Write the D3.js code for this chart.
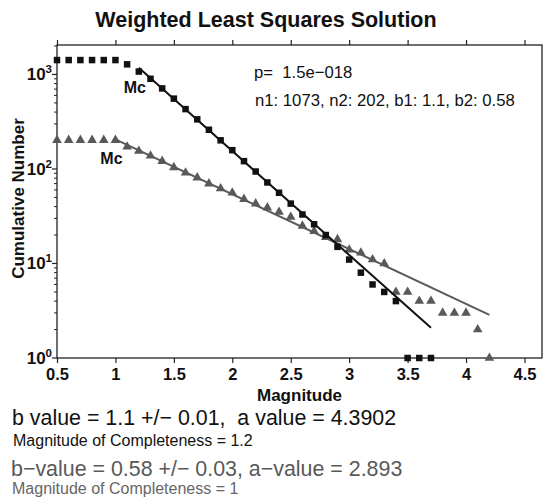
<!DOCTYPE html>
<html>
<head>
<meta charset="utf-8">
<script src="https://cdn.jsdelivr.net/npm/d3@7"></script>
<style>
  html, body { margin: 0; padding: 0; background: #fff; }
  svg { display: block; font-family: "Liberation Sans", Arial, Helvetica, sans-serif; }
</style>
</head>
<body>
<svg id="chart" width="548" height="499"></svg>
<script>
// Cumulative frequency–magnitude distributions for two catalogues
const magnitudes1 = [0.5,0.6,0.7,0.8,0.9,1.0,1.1,1.2,1.3,1.4,1.5,1.6,1.7,1.8,1.9,2.0,2.1,2.2,2.3,2.4,2.5,2.6,2.7,2.8,2.9,3.0,3.1,3.2,3.3,3.4,3.5,3.6,3.7];
const counts1 = [1420,1420,1420,1420,1420,1420,1280,1073,900,712,555,430,335,260,201,158,121,94,72,56,43,33,26,20,15,11,8,6,5,4,1,1,1];

const magnitudes2 = [0.5,0.6,0.7,0.8,0.9,1.0,1.1,1.2,1.3,1.4,1.5,1.6,1.7,1.8,1.9,2.0,2.1,2.2,2.3,2.4,2.5,2.6,2.7,2.8,2.9,3.0,3.1,3.2,3.3,3.4,3.5,3.6,3.7,3.8,3.9,4.0,4.1,4.2];
const counts2 = [202,202,202,202,202,202,172,155,138,121,104,91,81,70,62,56,48,43,39,35,31,25,22,19,18,14,13,11,10,5,5,4,4,3,3,3,2,1];

// Weighted least-squares fits: log10 N = a - b M, for M >= Mc
const bValues = [1.1, 0.58];
const aValues = [4.3902, 2.893];
const bErrors = [0.01, 0.03];
const mcValues = [1.2, 1.0];
const fitEnds = [3.7, 4.2];

const xTicks = [0.5, 1, 1.5, 2, 2.5, 3, 3.5, 4, 4.5];
const xTickLabels = ["0.5", "1", "1.5", "2", "2.5", "3", "3.5", "4", "4.5"];
const yExponents = [0, 1, 2, 3];

const svg = d3.select("#chart");
const plot = { left: 57, right: 542, top: 45, bottom: 358 };

const x = d3.scaleLinear().domain([0.5, 4.65]).range([plot.left, plot.right]);
const y = d3.scaleLog().domain([1, 2050]).range([plot.bottom, plot.top]);

const axisColor = "#222";
const darkColor = "#111";
const grayColor = "#595959";

// Title
svg.append("text")
  .attr("x", 266).attr("y", 27)
  .attr("text-anchor", "middle")
  .attr("font-size", 21.5).attr("font-weight", "bold")
  .attr("fill", "#111")
  .text("Weighted Least Squares Solution");

// Frame
svg.append("rect")
  .attr("x", plot.left).attr("y", plot.top)
  .attr("width", plot.right - plot.left).attr("height", plot.bottom - plot.top)
  .attr("fill", "none").attr("stroke", axisColor).attr("stroke-width", 1.3);

// Bottom axis
const xAxis = d3.axisBottom(x).tickValues(xTicks)
  .tickFormat((d, i) => xTickLabels[i]).tickSize(5).tickPadding(5);
const gx = svg.append("g").attr("transform", `translate(0,${plot.bottom})`).call(xAxis);
gx.select(".domain").remove();
gx.selectAll(".tick line").attr("stroke", axisColor).attr("stroke-width", 1.2);
gx.selectAll(".tick text")
  .attr("font-size", 16.5).attr("font-weight", "bold")
  .attr("font-family", "'Liberation Sans', Arial, sans-serif")
  .attr("fill", "#111");

// Top axis (ticks only)
const xAxisTop = d3.axisTop(x).tickValues(xTicks).tickFormat("").tickSize(5);
const gxt = svg.append("g").attr("transform", `translate(0,${plot.top})`).call(xAxisTop);
gxt.select(".domain").remove();
gxt.selectAll(".tick line").attr("stroke", axisColor).attr("stroke-width", 1.2);

// Left axis: major and minor log ticks
const minorTicks = [];
for (let e = 0; e < 4; e++) {
  for (let m = 2; m <= 9; m++) {
    const v = m * Math.pow(10, e);
    if (v <= y.domain()[1]) minorTicks.push(v);
  }
}
const gy = svg.append("g").attr("transform", `translate(${plot.left},0)`);
gy.selectAll("line.minor").data(minorTicks).join("line")
  .attr("class", "minor")
  .attr("x1", -3).attr("x2", 0)
  .attr("y1", d => y(d)).attr("y2", d => y(d))
  .attr("stroke", axisColor).attr("stroke-width", 1);
gy.selectAll("line.major").data(yExponents).join("line")
  .attr("class", "major")
  .attr("x1", -5).attr("x2", 0)
  .attr("y1", d => y(Math.pow(10, d))).attr("y2", d => y(Math.pow(10, d)))
  .attr("stroke", axisColor).attr("stroke-width", 1.2);
const yLabels = gy.selectAll("text.ylab").data(yExponents).join("text")
  .attr("class", "ylab")
  .attr("x", -5)
  .attr("y", d => y(Math.pow(10, d)) + 6)
  .attr("text-anchor", "end")
  .attr("font-size", 17).attr("font-weight", "bold")
  .attr("fill", "#111");
yLabels.append("tspan").text("10");
yLabels.append("tspan").attr("dy", -7).attr("font-size", 11.5).text(d => d);

// Axis labels
svg.append("text")
  .attr("transform", `translate(24,${(plot.top + plot.bottom) / 2 - 3}) rotate(-90)`)
  .attr("text-anchor", "middle")
  .attr("font-size", 17).attr("font-weight", "bold").attr("fill", "#111")
  .text("Cumulative Number");
svg.append("text")
  .attr("x", (plot.left + plot.right) / 2).attr("y", 401)
  .attr("text-anchor", "middle")
  .attr("font-size", 17).attr("font-weight", "bold").attr("fill", "#111")
  .text("Magnitude");

// Fit lines
const fitLine = (i) => {
  const ms = [mcValues[i], fitEnds[i]];
  return ms.map(m => [x(m), y(Math.pow(10, aValues[i] - bValues[i] * m))]);
};
const line = d3.line();

const series2 = magnitudes2.map((m, i) => ({ m, n: counts2[i] }));
const series1 = magnitudes1.map((m, i) => ({ m, n: counts1[i] }));

svg.append("path").attr("d", line(fitLine(1)))
  .attr("fill", "none").attr("stroke", grayColor).attr("stroke-width", 2);

const tri = d3.symbol().type(d3.symbolTriangle).size(40);
svg.append("g").selectAll("path").data(series2).join("path")
  .attr("d", tri)
  .attr("transform", d => `translate(${x(d.m)},${y(d.n)})`)
  .attr("fill", grayColor);

svg.append("path").attr("d", line(fitLine(0)))
  .attr("fill", "none").attr("stroke", darkColor).attr("stroke-width", 2);

const sq = 6.5;
svg.append("g").selectAll("rect").data(series1).join("rect")
  .attr("x", d => x(d.m) - sq / 2).attr("y", d => y(d.n) - sq / 2)
  .attr("width", sq).attr("height", sq)
  .attr("fill", darkColor);

// Mc markers on each curve
const mcCounts = [counts1[magnitudes1.indexOf(mcValues[0])], counts2[magnitudes2.indexOf(mcValues[1])]];
svg.append("g").selectAll("text").data(mcValues).join("text")
  .attr("x", (d) => x(d) - 4)
  .attr("y", (d, i) => y(mcCounts[i]) + (i === 0 ? 21 : 23.5))
  .attr("text-anchor", "middle")
  .attr("font-size", 16).attr("font-weight", "bold").attr("fill", "#111")
  .text("Mc");

// Comparison statistics
const stats = svg.append("g").attr("font-size", 16.7).attr("fill", "#111");
stats.append("text").attr("x", 254).attr("y", 78)
  .attr("xml:space", "preserve").style("white-space", "pre")
  .text("p=  1.5e\u2212018");
stats.append("text").attr("x", 255).attr("y", 106)
  .text(`n1: ${counts1[magnitudes1.indexOf(mcValues[0])]}, n2: ${counts2[magnitudes2.indexOf(mcValues[1])]}, b1: ${bValues[0]}, b2: ${bValues[1]}`);

// Summary lines under the chart
svg.append("text").attr("x", 12).attr("y", 425)
  .attr("font-size", 21.4).attr("fill", "#111")
  .style("white-space", "pre")
  .text(`b value = ${bValues[0]} +/\u2212 ${bErrors[0].toFixed(2)},  a value = ${aValues[0]}`);
svg.append("text").attr("x", 13).attr("y", 446)
  .attr("font-size", 16).attr("fill", "#111")
  .text(`Magnitude of Completeness = ${mcValues[0]}`);
svg.append("text").attr("x", 11).attr("y", 476)
  .attr("font-size", 21.4).attr("fill", grayColor)
  .text(`b\u2212value = ${bValues[1]} +/\u2212 ${bErrors[1].toFixed(2)}, a\u2212value = ${aValues[1]}`);
svg.append("text").attr("x", 12).attr("y", 494)
  .attr("font-size", 16).attr("fill", "#666")
  .text(`Magnitude of Completeness = ${mcValues[1]}`);
</script>
</body>
</html>
